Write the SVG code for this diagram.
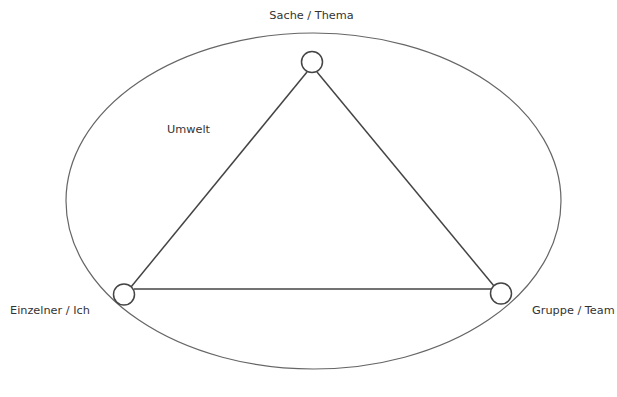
<svg xmlns="http://www.w3.org/2000/svg" width="617" height="397" viewBox="0 0 617 397">
<style>
.t{font-family:"DejaVu Sans",sans-serif;font-size:11.3px;fill:#333}
.c{fill:#fff;stroke:#444;stroke-width:1.5}
.l{stroke:#444;stroke-width:1.5;fill:none}
</style>
<rect width="617" height="397" fill="#fff"/>
<g id="umwelt">
<ellipse cx="313.5" cy="201" rx="247.5" ry="168" fill="none" stroke="#666" stroke-width="1.2"/>
<text class="t" x="167" y="133">Umwelt</text>
</g>
<g id="connectors">
<line class="l" x1="307" y1="72" x2="131" y2="287"/>
<line class="l" x1="317" y1="72" x2="494" y2="286"/>
<line class="l" x1="134" y1="289" x2="491" y2="289"/>
</g>
<g id="sache">
<circle class="c" cx="312" cy="62" r="10.5"/>
<text class="t" x="311.5" y="18.5" text-anchor="middle">Sache / Thema</text>
</g>
<g id="einzelner">
<circle class="c" cx="124" cy="294.5" r="10.5"/>
<text class="t" x="10" y="314">Einzelner / Ich</text>
</g>
<g id="gruppe">
<circle class="c" cx="501" cy="293.5" r="10.5"/>
<text class="t" x="532" y="314">Gruppe / Team</text>
</g>
</svg>
